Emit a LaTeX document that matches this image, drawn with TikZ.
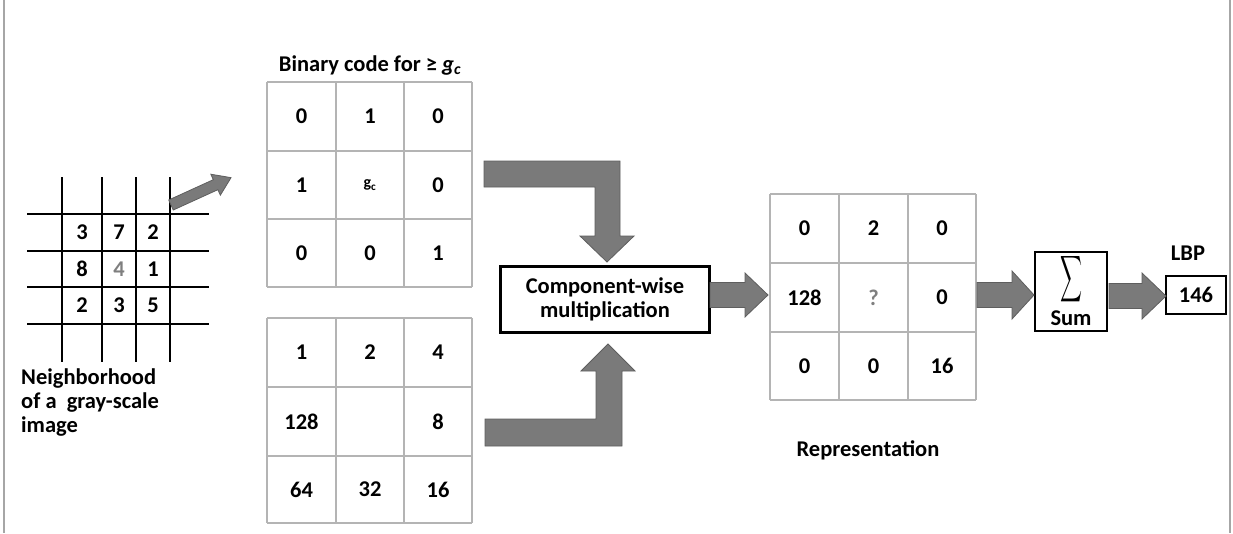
\documentclass[tikz,border=0pt]{standalone}
\usepackage{fontspec}
\setmainfont{Carlito}
\usetikzlibrary{calc}
\definecolor{arrfill}{HTML}{7A7A7A}
\definecolor{arrline}{HTML}{5E5E5E}
\definecolor{gridgray}{HTML}{B4B4B4}
\definecolor{txtgray}{HTML}{7F7F7F}
\newcommand\harrow[5]{%
  \fill[blockarrow] ($(#1)+(0,-#3)$) -- ($(#2)+(-#5,-#3)$) -- ($(#2)+(-#5,-#4)$) -- (#2)
    -- ($(#2)+(-#5,#4)$) -- ($(#2)+(-#5,#3)$) -- ($(#1)+(0,#3)$) -- cycle;}
\begin{document}
\begin{tikzpicture}[x=1pt,y=-1pt,
  lbl/.style={font=\fontsize{22.5}{24}\selectfont\bfseries, inner sep=0pt},
  num/.style={font=\fontsize{22.5}{24}\selectfont\bfseries, inner sep=0pt},
  blockarrow/.style={fill=arrfill, draw=arrline, line width=0.8pt},
  boxed/.style={draw=black, line width=2.6pt, fill=white},
  ggrid/.style={draw=gridgray, line width=1.3pt},
  kgrid/.style={draw=black, line width=1.1pt}]
\useasboundingbox (0,0) rectangle (1233,533);
% frame bars
\draw[gray!70, line width=1.8pt] (4,0) -- (4,533);
\draw[gray!70, line width=1.8pt] (1230,0) -- (1230,533);

% ---- neighborhood grid
\foreach \x in {62,102,136,170} \draw[kgrid] (\x,177) -- (\x,362);
\foreach \y in {214,251,287,324} \draw[kgrid] (27,\y) -- (209,\y);
\node[num] (n11) at (82,232.5) {3};
\node[num] (n12) at (119,232.5) {7};
\node[num] (n13) at (153,232.5) {2};
\node[num] (n21) at (82,269) {8};
\node[num,text=txtgray] (n22) at (119,269) {4};
\node[num] (n23) at (153,269) {1};
\node[num] (n31) at (82,305.5) {2};
\node[num] (n32) at (119,305.5) {3};
\node[num] (n33) at (153,305.5) {5};
\node[lbl, align=left, anchor=north west] (nlab) at (21,369) {Neighborhood\\of a\ \ gray-scale\\image};

% diagonal arrow
\coordinate (dtail) at (171,205);
\begin{scope}[shift={(dtail)}, rotate=24.5]
\fill[blockarrow] (0,-5.5) -- (49,-5.5) -- (49,-11.5) -- (66,0) -- (49,11.5) -- (49,5.5) -- (0,5.5) -- cycle;
\end{scope}

% ---- binary grid
\foreach \x in {267,336,404,472} \draw[ggrid] (\x,82) -- (\x,287);
\foreach \y in {82,151,219,287} \draw[ggrid] (267,\y) -- (472,\y);
\node[lbl] (btitle) at (370,65) {Binary code for \char"2265\ \textit{g\textsubscript{c}}};
\node[num] (b11) at (301.5,116.5) {0};
\node[num] (b12) at (370,116.5) {1};
\node[num] (b13) at (438,116.5) {0};
\node[num] (b21) at (301.5,185) {1};
\node[font=\fontsize{16}{17}\selectfont\bfseries, inner sep=0pt] (b22) at (370,185) {g\textsubscript{c}};
\node[num] (b23) at (438,185) {0};
\node[num] (b31) at (301.5,253) {0};
\node[num] (b32) at (370,253) {0};
\node[num] (b33) at (438,253) {1};

% ---- weights grid
\foreach \x in {267,336,404,472} \draw[ggrid] (\x,318) -- (\x,523);
\foreach \y in {318,387,456,523} \draw[ggrid] (267,\y) -- (472,\y);
\node[num] (w11) at (301.5,352.5) {1};
\node[num] (w12) at (370,352.5) {2};
\node[num] (w13) at (438,352.5) {4};
\node[num] (w21) at (301.5,421.5) {128};
\node[num] (w23) at (438,421.5) {8};
\node[num] (w31) at (301.5,489.5) {64};
\node[num] (w32) at (370,489.5) {32};
\node[num] (w33) at (438,489.5) {16};

% ---- component-wise box
\node[boxed, lbl, align=center, minimum width=209pt, minimum height=66pt] (comp) at (605,299.5) {Component-wise\\multiplication};

% bent arrows
\fill[blockarrow] (484,161) -- (620,161) -- (620,236) -- (634,236) -- (607,262) -- (580,236) -- (595,236) -- (595,187) -- (484,187) -- cycle;
\fill[blockarrow] (485,446) -- (622,446) -- (622,371) -- (635,371) -- (608,344) -- (581,371) -- (596,371) -- (596,419) -- (485,419) -- cycle;

% ---- representation grid
\foreach \x in {770,839,908,976} \draw[ggrid] (\x,194) -- (\x,400);
\foreach \y in {194,263,332,400} \draw[ggrid] (770,\y) -- (976,\y);
\node[num] (r11) at (804.5,228.5) {0};
\node[num] (r12) at (873.5,228.5) {2};
\node[num] (r13) at (942,228.5) {0};
\node[num] (r21) at (804.5,297.5) {128};
\node[num,text=txtgray] (r22) at (873.5,297.5) {?};
\node[num] (r23) at (942,297.5) {0};
\node[num] (r31) at (804.5,366) {0};
\node[num] (r32) at (873.5,366) {0};
\node[num] (r33) at (942,366) {16};
\node[lbl] (rlab) at (868,450) {Representation};

% ---- sum box
\node[boxed, minimum width=72pt, minimum height=79pt, inner sep=0pt] (sum) at (1071,291.5) {};
\node[inner sep=0pt] (sigma) at (1071,279) {\resizebox{22pt}{34pt}{$\displaystyle\sum$}};
\node[lbl] (sumlab) at (1071,318) {Sum};

% ---- LBP box
\node[boxed, lbl, minimum width=60pt, minimum height=38pt] (lbp) at (1196,295) {146};
\node[lbl] (lbplab) at (1188,253) {LBP};

% straight block arrows
\coordinate (a1s) at (710,295);   \coordinate (a1e) at (768,295);
\coordinate (a2s) at (977,295);   \coordinate (a2e) at (1034,295);
\coordinate (a3s) at (1109,296);  \coordinate (a3e) at (1166,296);
\harrow{a1s}{a1e}{12.5}{22}{23}
\harrow{a2s}{a2e}{12.5}{24}{22}
\harrow{a3s}{a3e}{12.5}{23}{24}
\end{tikzpicture}
\end{document}
